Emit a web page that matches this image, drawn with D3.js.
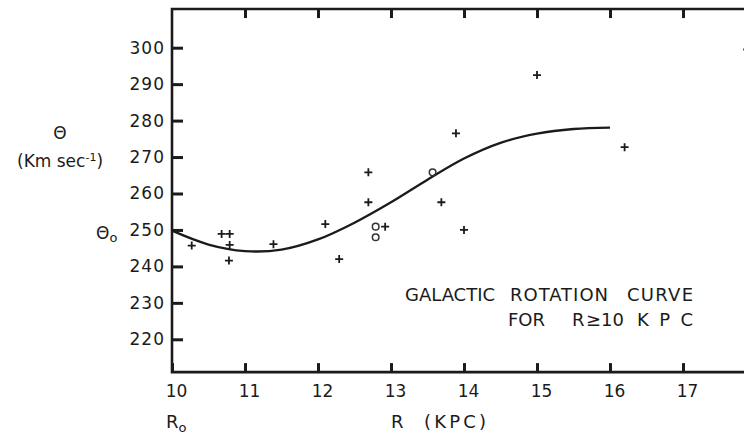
<!DOCTYPE html>
<meta charset="utf-8">
<script src="https://d3js.org/d3.v7.min.js"></script>
<style>
  body { margin: 0; background: #fff; }
  text { font-family: "DejaVu Sans", sans-serif; fill: #1b1b1b; }
</style>
<div id="chart"></div>
<script>

// tick values
var xTicks = [10, 11, 12, 13, 14, 15, 16, 17];
var yTicks = [220, 230, 240, 250, 260, 270, 280, 290, 300];

// observed velocities, plus signs
var crossR = [10.27, 10.68, 10.79, 10.79, 10.78, 11.39, 12.10, 12.29, 12.69, 12.69, 12.92, 13.69, 13.89, 14.00, 15.00, 16.20, 17.88];
var crossV = [245.7, 248.9, 248.9, 245.9, 241.6, 246.1, 251.6, 242.0, 265.8, 257.6, 250.9, 257.6, 276.5, 250.0, 292.5, 272.7, 299.5];

// observed velocities, open circles
var circleR = [12.79, 12.79, 13.57];
var circleV = [250.9, 248.0, 265.8];

// fitted rotation curve
var curveR = [10.0, 10.5, 11.0, 11.5, 12.0, 12.5, 13.0, 13.5, 14.0, 14.5, 15.0, 15.5, 16.0];
var curveV = [249.8, 246.0, 244.2, 244.6, 247.4, 252.0, 257.6, 263.8, 269.6, 273.9, 276.4, 277.7, 278.1];

var width = 744, height = 437;

var svg = d3.select("#chart")
  .append("svg")
    .attr("width", width)
    .attr("height", height);

var x = d3.scaleLinear().domain([10, 17]).range([172, 683]);
var y = d3.scaleLinear().domain([220, 300]).range([339.3, 47.7]);

var frameTop = y(310.6), frameBottom = y(211), frameLeft = x(10), frameRight = x(18);

svg.append("clipPath").attr("id", "clip")
  .append("rect")
    .attr("x", 0).attr("y", 0)
    .attr("width", width).attr("height", height);

// y axis, ticks pointing inward
var yAxis = svg.append("g")
    .attr("transform", "translate(" + frameLeft + ",0)")
    .call(d3.axisLeft(y).tickValues(yTicks).tickSize(-11).tickPadding(7));
yAxis.select(".domain").remove();
yAxis.selectAll("line").attr("stroke", "#1b1b1b").attr("stroke-width", 3);
yAxis.selectAll("text")
    .style("font-size", "17px")
    .style("letter-spacing", "1px")
    .attr("font-family", null);

// bottom x axis
var xAxis = svg.append("g")
    .attr("transform", "translate(0," + frameBottom + ")")
    .call(d3.axisBottom(x).tickValues(xTicks).tickFormat(d3.format("d")).tickSize(-9).tickPadding(13));
xAxis.select(".domain").remove();
xAxis.selectAll("line").attr("stroke", "#1b1b1b").attr("stroke-width", 3);
xAxis.selectAll("text")
    .style("font-size", "17px")
    .attr("dx", 4)
    .attr("font-family", null);

// top axis, ticks only
var topAxis = svg.append("g")
    .attr("transform", "translate(0," + frameTop + ")")
    .call(d3.axisTop(x).tickValues(xTicks.slice(1)).tickSize(-9).tickFormat(""));
topAxis.select(".domain").remove();
topAxis.selectAll("line").attr("stroke", "#1b1b1b").attr("stroke-width", 3);

// frame
svg.append("path")
    .attr("d", "M" + frameRight + "," + frameTop + "H" + frameLeft + "V" + frameBottom + "H" + frameRight)
    .attr("fill", "none")
    .attr("stroke", "#1b1b1b")
    .attr("stroke-width", 2.6);

// curve
var line = d3.line()
    .x(function(d) { return x(d[0]); })
    .y(function(d) { return y(d[1]); })
    .curve(d3.curveCatmullRom);

svg.append("path")
    .datum(d3.zip(curveR, curveV))
    .attr("d", line)
    .attr("fill", "none")
    .attr("stroke", "#1b1b1b")
    .attr("stroke-width", 2.3);

// plus signs
var arm = 4;
svg.append("g")
    .attr("clip-path", "url(#clip)")
  .selectAll("path")
  .data(d3.zip(crossR, crossV))
  .enter().append("path")
    .attr("d", function(d) {
      var cx = x(d[0]), cy = y(d[1]);
      return "M" + (cx - arm) + "," + cy + "H" + (cx + arm) + "M" + cx + "," + (cy - arm) + "V" + (cy + arm);
    })
    .attr("stroke", "#1b1b1b")
    .attr("stroke-width", 1.8);

// open circles
svg.append("g")
  .selectAll("circle")
  .data(d3.zip(circleR, circleV))
  .enter().append("circle")
    .attr("cx", function(d) { return x(d[0]); })
    .attr("cy", function(d) { return y(d[1]); })
    .attr("r", 3.3)
    .attr("fill", "none")
    .attr("stroke", "#333")
    .attr("stroke-width", 1.5);

// axis titles
svg.append("text")
    .attr("x", 60).attr("y", 139)
    .attr("text-anchor", "middle")
    .style("font-size", "17px")
    .text("\u0398");

var unit = svg.append("text")
    .attr("x", 17).attr("y", 167)
    .style("font-size", "17px");
unit.append("tspan").text("(Km sec");
unit.append("tspan").attr("dy", -6).style("font-size", "11px").text("-1");
unit.append("tspan").attr("dy", 6).text(")");

var theta0 = svg.append("text")
    .attr("x", 96).attr("y", 239)
    .style("font-size", "17px");
theta0.append("tspan").text("\u0398");
theta0.append("tspan").attr("dy", 3).style("font-size", "13px").text("o");

var r0 = svg.append("text")
    .attr("x", 166).attr("y", 428)
    .style("font-size", "18px");
r0.append("tspan").text("R");
r0.append("tspan").attr("dy", 4).style("font-size", "13px").text("o");

svg.append("text")
    .attr("x", 391).attr("y", 428)
    .style("font-size", "18px")
    .text("R");
svg.append("text")
    .attr("x", 424).attr("y", 428)
    .attr("textLength", 62)
    .attr("lengthAdjust", "spacing")
    .style("font-size", "18px")
    .text("(KPC)");

// annotation
var note = [
  {t: "GALACTIC", x0: 405, x1: 495, y: 301},
  {t: "ROTATION", x0: 510, x1: 608, y: 301},
  {t: "CURVE", x0: 627, x1: 693, y: 301},
  {t: "FOR", x0: 508, x1: 545, y: 326},
  {t: "R", x0: 572, x1: null, y: 326},
  {t: "\u2265", x0: 586, x1: null, y: 326},
  {t: "10", x0: 601, x1: null, y: 326},
  {t: "KPC", x0: 637, x1: 693, y: 326}
];
svg.append("g")
  .selectAll("text")
  .data(note)
  .enter().append("text")
    .attr("x", function(d) { return d.x0; })
    .attr("y", function(d) { return d.y; })
    .attr("textLength", function(d) { return d.x1 ? d.x1 - d.x0 : null; })
    .attr("lengthAdjust", "spacing")
    .style("font-size", "18px")
    .text(function(d) { return d.t; });

</script>
